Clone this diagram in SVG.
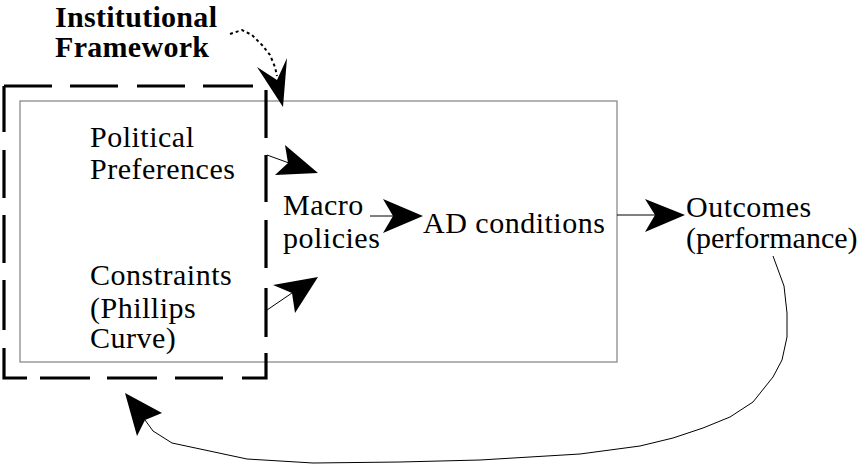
<svg xmlns="http://www.w3.org/2000/svg" width="863" height="464" viewBox="0 0 863 464">
<style>
text { font-family: "Liberation Serif", "Times New Roman", serif; font-size: 30px; fill: #000; letter-spacing: 0.5px; }
.title { font-weight: bold; letter-spacing: 0.3px; }
.box { fill: none; stroke: #808080; stroke-width: 1.2; }
.dash { fill: none; stroke: #000; stroke-width: 3.2; stroke-linecap: butt; }
.line { fill: none; stroke: #000; stroke-width: 1; }
.dot { fill: none; stroke: #000; stroke-width: 2; stroke-dasharray: 3 3; }
.head { fill: #000; stroke: none; }
</style>
<rect width="863" height="464" fill="#fff"/>
<g id="main-box">
  <rect class="box" x="20" y="101" width="597" height="261"/>
</g>
<g id="institutional-framework">
  <path class="dash" d="M4,86 H52 M70,86 H118 M137,86 H185 M203,86 H253 M266,90 V138 M266,155 V202 M266,220 V268 M266,288 V337 M266,353 V378 H242 M223,378 H175 M157,378 H107 M90,378 H40 M27,378 H4 V348 M4,330 V280 M4,263 V215 M4,198 V150 M4,132 V86"/>
  <text class="title" x="55" y="27">Institutional</text>
  <text class="title" x="55" y="57">Framework</text>
</g>
<g id="political-preferences">
  <text x="90" y="147">Political</text>
  <text x="90" y="179">Preferences</text>
</g>
<g id="constraints">
  <text x="90" y="285">Constraints</text>
  <text x="90" y="318">(Phillips</text>
  <text x="90" y="348">Curve)</text>
</g>
<g id="macro-policies">
  <text x="283" y="215">Macro</text>
  <text x="283" y="248">policies</text>
</g>
<g id="ad-conditions">
  <text x="423" y="233">AD conditions</text>
</g>
<g id="outcomes">
  <text x="686" y="217">Outcomes</text>
  <text x="686" y="248" style="letter-spacing:0">(performance)</text>
</g>
<g id="connectors">
  <path class="dot" d="M230,34 L242,30 L252,35 L262,45 L270,55 L275,67 L277,76"/>
  <polygon class="head" points="257,67 277,80 287,58 283,107"/>
  <path class="line" d="M267,155 L289,163"/>
  <polygon class="head" points="285,145 318,173 275,175 288,163"/>
  <path class="line" d="M267,310 L292,293"/>
  <polygon class="head" points="273,285 318,277 295,313 292,293"/>
  <path class="line" d="M370,216 L393,216"/>
  <polygon class="head" points="383,199 423,216 383,233 393,216"/>
  <path class="line" d="M617,215 L655,215"/>
  <polygon class="head" points="645,199 685,215 645,232 655,215"/>
  <polyline class="line" points="773,256 784,286 787,313 787,337 782,360 773,377 753,402 730,417 703,428 673,438 640,446 580,454 480,460 400,462 313,463 247,459 172,443 153,431 145,420"/>
  <polygon class="head" points="125,393 162,413 145,420 137,436"/>
</g>
</svg>
